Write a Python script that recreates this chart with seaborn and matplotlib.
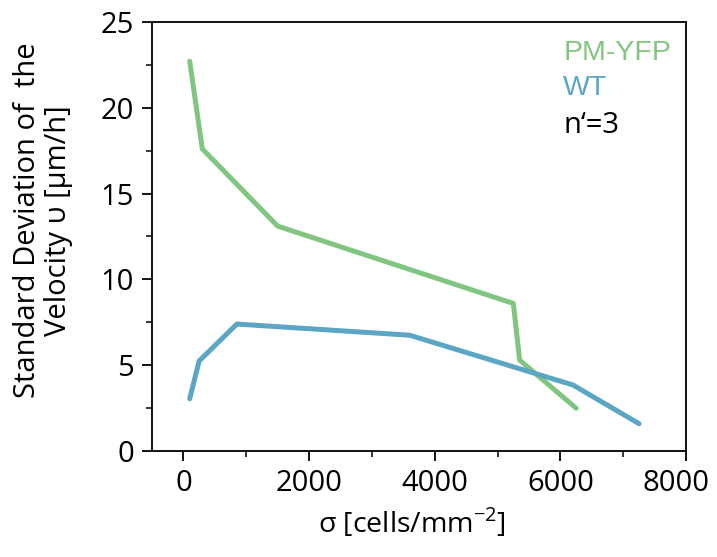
import matplotlib

matplotlib.use("Agg")
import matplotlib.pyplot as plt
import pandas as pd
import seaborn as sns
from matplotlib.ticker import MultipleLocator
from matplotlib.transforms import ScaledTranslation

# density (cells/mm^2) and std of velocity (um/h)
pm_density = [100, 300, 1500, 5250, 5350, 6250]
pm_std = [22.7, 17.6, 13.1, 8.6, 5.3, 2.5]
wt_density = [100, 250, 850, 3600, 6200, 7250]
wt_std = [3.05, 5.25, 7.4, 6.75, 3.85, 1.6]

colors = {"PM-YFP": "#80c680", "WT": "#5aa6c4"}

df = pd.concat(
    [
        pd.DataFrame({"density": pm_density, "std": pm_std, "line": "PM-YFP"}),
        pd.DataFrame({"density": wt_density, "std": wt_std, "line": "WT"}),
    ],
    ignore_index=True,
)

sns.set_style("ticks")
plt.rcParams["font.family"] = ["Open Sans", "DejaVu Sans"]
plt.rcParams["text.color"] = "black"
plt.rcParams["axes.labelcolor"] = "black"
plt.rcParams["xtick.color"] = "black"
plt.rcParams["ytick.color"] = "black"

fig = plt.figure(figsize=(7.17, 5.57), dpi=100)
ax = fig.add_axes([0.212, 0.190, 0.745, 0.771])

sns.lineplot(
    data=df, x="density", y="std", hue="line", palette=colors,
    linewidth=3.6, ax=ax, legend=False, sort=False, estimator=None,
)

ax.set_xlim(-500, 8000)
ax.set_ylim(0, 25)
ax.xaxis.set_major_locator(MultipleLocator(2000))
ax.xaxis.set_minor_locator(MultipleLocator(1000))
ax.yaxis.set_major_locator(MultipleLocator(5))
ax.yaxis.set_minor_locator(MultipleLocator(2.5))
ax.tick_params(which="major", direction="out", length=7, width=1.3, labelsize=21, pad=6)
ax.tick_params(which="minor", direction="out", length=4, width=1.1)
for side in ["top", "right", "left", "bottom"]:
    ax.spines[side].set_visible(True)
    ax.spines[side].set_linewidth(1.4)
    ax.spines[side].set_color("#111111")

ax.set_xlabel("σ [cells/mm$^{\\mathregular{-2}}$]", fontsize=20.5)
ax.set_ylabel("Standard Deviation of  the\nVelocity υ [μm/h]", fontsize=21, linespacing=1.1)
ax.xaxis.set_label_coords(0.487, -0.13)
ax.yaxis.set_label_coords(-0.148, 0.538)

legend_font = ["Liberation Sans", "DejaVu Sans"]
ax.text(0.770, 0.911, "PM-YFP", transform=ax.transAxes, color=colors["PM-YFP"],
        fontsize=20.5, va="baseline", family=legend_font)
ax.text(0.770, 0.830, "WT", transform=ax.transAxes, color=colors["WT"],
        fontsize=20.5, va="baseline", family=legend_font)
ax.text(0.770, 0.741, "n‘=3", transform=ax.transAxes, color="black",
        fontsize=21, va="baseline")

# the last x label sits a little left of its tick, as in the original
fig.canvas.draw()
for tick in ax.xaxis.get_major_ticks():
    if abs(tick.get_loc() - 8000) < 1:
        lab = tick.label1
        lab.set_transform(lab.get_transform() + ScaledTranslation(-0.1, 0, fig.dpi_scale_trans))

fig.savefig("out.png", dpi=100)
